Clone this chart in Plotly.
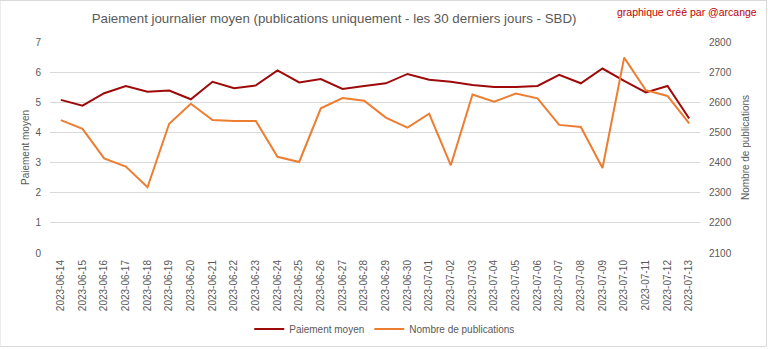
import plotly.graph_objects as go

dates = ["2023-06-14","2023-06-15","2023-06-16","2023-06-17","2023-06-18","2023-06-19","2023-06-20",
         "2023-06-21","2023-06-22","2023-06-23","2023-06-24","2023-06-25","2023-06-26","2023-06-27",
         "2023-06-28","2023-06-29","2023-06-30","2023-07-01","2023-07-02","2023-07-03","2023-07-04",
         "2023-07-05","2023-07-06","2023-07-07","2023-07-08","2023-07-09","2023-07-10","2023-07-11",
         "2023-07-12","2023-07-13"]
paiement = [5.08, 4.89, 5.30, 5.54, 5.35, 5.39, 5.10, 5.68, 5.47, 5.56, 6.06, 5.66, 5.77, 5.44, 5.54,
            5.63, 5.94, 5.75, 5.68, 5.57, 5.51, 5.51, 5.54, 5.91, 5.63, 6.12, 5.71, 5.33, 5.54, 4.46]
publications = [2541, 2512, 2414, 2387, 2318, 2529, 2595, 2541, 2538, 2538, 2419, 2402, 2580, 2614, 2605,
                2549, 2516, 2562, 2391, 2626, 2602, 2629, 2613, 2525, 2518, 2382, 2748, 2640, 2621, 2530]

FONT = "Liberation Sans, sans-serif"
GRAY = "#595959"

fig = go.Figure()
fig.add_trace(go.Scatter(x=dates, y=paiement, name="Paiement moyen", mode="lines",
                         line=dict(color="#9E0A0A", width=2), yaxis="y"))
fig.add_trace(go.Scatter(x=dates, y=publications, name="Nombre de publications", mode="lines",
                         line=dict(color="#ED7D31", width=2), yaxis="y2"))

fig.update_layout(
    width=768, height=349,
    margin=dict(l=50, r=68, t=42, b=96, autoexpand=False),
    paper_bgcolor="white", plot_bgcolor="white",
    font=dict(family=FONT, color=GRAY, size=10),
    title=dict(text="Paiement journalier moyen (publications uniquement - les 30 derniers jours - SBD)",
               x=0.435, xanchor="center", y=0.948, yanchor="middle",
               font=dict(size=13.3, color=GRAY, family=FONT)),
    showlegend=True,
    legend=dict(orientation="h", x=0.515, xanchor="center", yref="container",
                y=1 - 329 / 349, yanchor="middle",
                font=dict(size=10, color=GRAY), itemwidth=30, tracegroupgap=0),
    xaxis=dict(type="category", range=[-0.5, len(dates) - 0.5], tickangle=-90, showgrid=False,
               automargin=False, showline=False, ticks="", ticklabelstandoff=4,
               tickfont=dict(size=10, color=GRAY), zeroline=False),
    yaxis=dict(range=[0, 7], dtick=1, gridcolor="#D9D9D9", gridwidth=1, zeroline=False,
               automargin=False, showline=False, tickfont=dict(size=10, color=GRAY), ticklabelstandoff=8,
               title=dict(text="Paiement moyen", font=dict(size=10, color=GRAY), standoff=3)),
    yaxis2=dict(range=[2100, 2800], dtick=100, overlaying="y", side="right", showgrid=False,
                automargin=False, zeroline=False, showline=False, tickfont=dict(size=10, color=GRAY),
                ticklabelstandoff=8,
                title=dict(text="Nombre de publications", font=dict(size=10, color=GRAY), standoff=11)),
    annotations=[dict(text="graphique créé par @arcange", xref="paper", yref="paper",
                      x=1.09, xanchor="right", y=1.14, yanchor="middle", showarrow=False,
                      font=dict(size=10.5, color="#C00000", family=FONT))],
    shapes=[dict(type="rect", xref="paper", yref="paper",
                 x0=-50/650, x1=(768-50-1.5)/650, y0=-(96-2.5)/211, y1=(211+42-0.5)/211,
                 line=dict(color="#D9D9D9", width=1))],
)

fig.write_html("out.html")
